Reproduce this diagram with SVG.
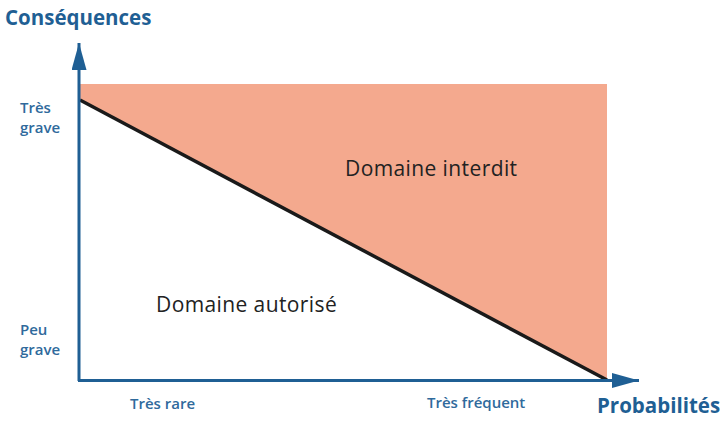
<svg xmlns="http://www.w3.org/2000/svg" width="720" height="421" viewBox="0 0 720 421">
<style>
.ax{font-family:"Open Sans","Liberation Sans",sans-serif;font-weight:bold;fill:#1f5f94}
.lbl{font-family:"Open Sans","Liberation Sans",sans-serif;font-weight:600;font-size:15px;fill:#2f6a9c}
.dom{font-family:"Open Sans","Liberation Sans",sans-serif;font-size:21px;letter-spacing:0.4px;fill:#222}
.axis{stroke:#1f5f94;stroke-width:3;fill:none}
</style>
<defs>
<marker id="arr" viewBox="0 0 10 10" refX="10" refY="5" markerWidth="9" markerHeight="5" markerUnits="strokeWidth" orient="auto" preserveAspectRatio="none">
<path d="M0,0 L10,5 L0,10 z" fill="#1f5f94"/>
</marker>
</defs>
<rect width="720" height="421" fill="#fff"/>
<g id="zone-interdite">
<polygon points="80,84 607,84 607,380 80,100" fill="#f4a98e"/>
<text class="dom" x="345" y="176">Domaine interdit</text>
</g>
<g id="zone-autorisee">
<text class="dom" x="156" y="312">Domaine autorisé</text>
</g>
<g id="limite">
<line x1="80" y1="100" x2="607" y2="380" stroke="#1a1a1a" stroke-width="3.5"/>
</g>
<g id="axes">
<line class="axis" x1="79" y1="381" x2="79" y2="43" marker-end="url(#arr)"/>
<line class="axis" x1="78" y1="380.5" x2="639" y2="380.5" marker-end="url(#arr)"/>
</g>
<g id="labels">
<text class="ax" x="5" y="25" font-size="20.5">Conséquences</text>
<text class="ax" x="597" y="413" font-size="20.5">Probabilités</text>
<text class="lbl" x="20" y="113">Très</text>
<text class="lbl" x="20" y="133">grave</text>
<text class="lbl" x="20" y="335">Peu</text>
<text class="lbl" x="20" y="355">grave</text>
<text class="lbl" x="130" y="409">Très rare</text>
<text class="lbl" x="427" y="408">Très fréquent</text>
</g>
</svg>
